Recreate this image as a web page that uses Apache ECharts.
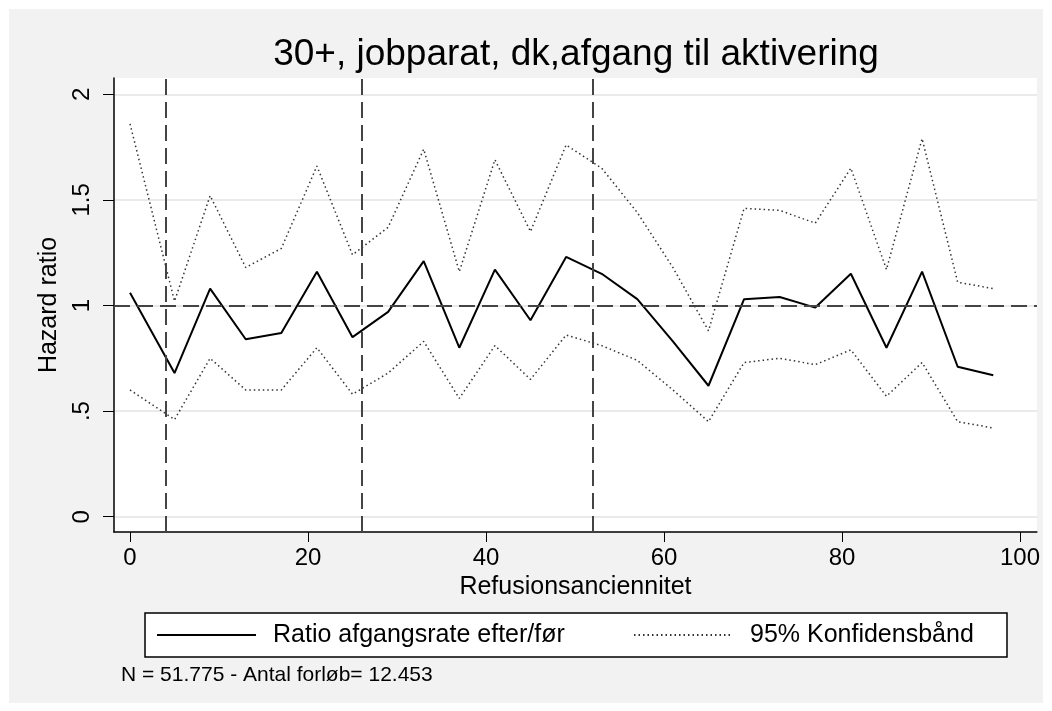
<!DOCTYPE html>
<html>
<head>
  <meta charset="utf-8">
  <script src="https://cdn.jsdelivr.net/npm/echarts@6/dist/echarts.min.js"></script>
  <style>
    body { margin: 0; background: #fff; }
    #main { position: absolute; left: 9px; top: 9px; width: 1034px; height: 694px; }
  </style>
</head>
<body>
<div id="main"></div>
<script type="text/javascript">
// refusionsanciennitet (x)
var weeks = [0, 5, 9, 13, 17, 21, 25, 29, 33, 37, 41, 45, 49, 53, 57, 61, 65, 69, 73, 77, 81, 85, 89, 93, 97];
// hazard ratio efter/foer
var ratio = [1.06, 0.68, 1.08, 0.84, 0.87, 1.16, 0.85, 0.97, 1.21, 0.80, 1.17, 0.93, 1.23, 1.15, 1.03, 0.83, 0.62, 1.03, 1.04, 0.99, 1.15, 0.80, 1.16, 0.71, 0.67];
var upper = [1.86, 1.02, 1.52, 1.18, 1.27, 1.66, 1.24, 1.37, 1.74, 1.16, 1.69, 1.35, 1.76, 1.65, 1.44, 1.18, 0.88, 1.46, 1.45, 1.39, 1.65, 1.17, 1.79, 1.11, 1.08];
var lower = [0.60, 0.46, 0.75, 0.60, 0.60, 0.80, 0.58, 0.68, 0.83, 0.56, 0.81, 0.65, 0.86, 0.81, 0.74, 0.60, 0.45, 0.73, 0.75, 0.72, 0.79, 0.57, 0.73, 0.45, 0.42];

var xTicks = [0, 20, 40, 60, 80, 100];
var yTicks = [0, 0.5, 1, 1.5, 2];
var vLines = [4, 26, 52];
var hLine = 1;

var titleText = '30+, jobparat, dk,afgang til aktivering';
var noteText = 'N = 51.775 - Antal forløb= 12.453';
var nameMain = 'Ratio afgangsrate efter/før';
var nameCI = '95% Konfidensbånd';

var pairs = function (ys) {
    var res = [];
    for (var i = 0; i < weeks.length; i++) {
        res.push([weeks[i], ys[i]]);
    }
    return res;
};

var font = "'Liberation Sans', Arial, sans-serif";
var dotted = { color: '#333', width: 1.5, type: [1.5, 3] };

var markData = [];
for (var i = 0; i < vLines.length; i++) markData.push({ xAxis: vLines[i] });
markData.push({ yAxis: hLine });

var legendBase = {
    top: 613, padding: 0,
    itemWidth: 99, itemHeight: 26,
    itemStyle: { opacity: 0, borderWidth: 0 },
    textStyle: { fontFamily: font, fontSize: 25, lineHeight: 26, color: '#000', padding: [0, 0, 0, 12] }
};

var chart = echarts.init(document.getElementById('main'));
chart.setOption({
    animation: false,
    backgroundColor: '#f2f2f2',
    textStyle: { fontFamily: font, color: '#000' },
    title: [{
        text: titleText,
        left: 567, top: 27, padding: 0,
        textAlign: 'center',
        textStyle: { fontFamily: font, fontSize: 37, fontWeight: 'normal', color: '#000' }
    }, {
        text: noteText,
        left: 112, top: 656, padding: 0,
        textStyle: { fontFamily: font, fontSize: 21, fontWeight: 'normal', color: '#000' }
    }],
    graphic: [{
        type: 'rect',
        shape: { x: 136, y: 604, width: 862, height: 44 },
        style: { fill: '#fff', stroke: '#000', lineWidth: 1.5 }
    }],
    legend: [
        echarts.util.merge({ data: [nameMain], left: 147 }, legendBase),
        echarts.util.merge({ data: [nameCI], left: 624 }, legendBase)
    ],
    grid: {
        left: 105, top: 69, right: 4, bottom: 171,
        show: true, backgroundColor: '#fff', borderWidth: 0
    },
    xAxis: {
        type: 'value',
        min: -1.8, max: 101.9,
        name: 'Refusionsanciennitet',
        nameLocation: 'middle',
        nameGap: 35,
        nameTextStyle: { fontFamily: font, fontSize: 25, color: '#000' },
        axisLine: { onZero: false, lineStyle: { color: '#000', width: 1.5 } },
        axisTick: { length: 10, customValues: xTicks, lineStyle: { color: '#000', width: 1 } },
        axisLabel: { customValues: xTicks, margin: 14, fontSize: 24, color: '#000', fontFamily: font },
        splitLine: { show: false }
    },
    yAxis: {
        type: 'value',
        min: -0.0724, max: 2.077,
        name: 'Hazard ratio',
        nameLocation: 'middle',
        nameGap: 51,
        nameTextStyle: { fontFamily: font, fontSize: 25, color: '#000' },
        axisLine: { show: true, onZero: false, lineStyle: { color: '#000', width: 1.5 } },
        axisTick: { show: true, length: 11, customValues: yTicks, lineStyle: { color: '#000', width: 1 } },
        axisLabel: {
            customValues: yTicks, rotate: 90, margin: 20, fontSize: 24, color: '#000', fontFamily: font,
            formatter: function (v) { return String(v).replace(/^0\./, '.'); }
        },
        splitLine: { show: true, lineStyle: { color: '#eaeaea', width: 2 } }
    },
    series: [{
        name: nameCI,
        type: 'line',
        data: pairs(upper),
        symbol: 'none',
        lineStyle: dotted,
        itemStyle: { color: '#333' }
    }, {
        name: nameCI,
        type: 'line',
        data: pairs(lower),
        symbol: 'none',
        lineStyle: dotted,
        itemStyle: { color: '#333' }
    }, {
        name: nameMain,
        type: 'line',
        data: pairs(ratio),
        symbol: 'none',
        lineStyle: { color: '#000', width: 2 },
        itemStyle: { color: '#000' },
        markLine: {
            silent: true,
            symbol: 'none',
            label: { show: false },
            lineStyle: { color: '#444', width: 2, type: [16, 7] },
            data: markData
        }
    }]
});
</script>
</body>
</html>
